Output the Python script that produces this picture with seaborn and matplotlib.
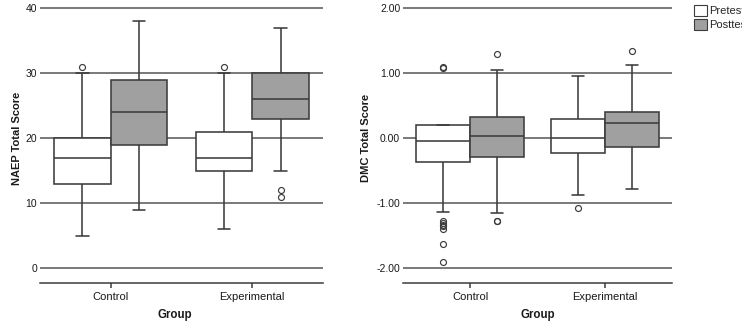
import numpy as np
import pandas as pd
import matplotlib
matplotlib.use("Agg")
import matplotlib.pyplot as plt
import seaborn as sns
from matplotlib.patches import Patch

# ---- data ----
groups = ["Control", "Control", "Experimental", "Experimental"]
times = ["Pretest", "Posttest", "Pretest", "Posttest"]

naep_low = [5, 9, 6, 15]
naep_q1 = [13, 19, 15, 23]
naep_med = [17, 24, 17, 26]
naep_q3 = [20, 29, 21, 30]
naep_high = [30, 38, 30, 37]
naep_out = [[31], [], [31], [12, 11]]

dmc_low = [-1.14, -1.15, -0.87, -0.78]
dmc_q1 = [-0.37, -0.29, -0.23, -0.14]
dmc_med = [-0.05, 0.04, 0.01, 0.23]
dmc_q3 = [0.21, 0.32, 0.29, 0.41]
dmc_high = [1.08, 1.05, 0.96, 1.13]
dmc_out = [[1.10, -1.27, -1.30, -1.33, -1.36, -1.40, -1.63, -1.90],
           [1.30, -1.27, -1.28], [-1.07], [1.34]]

time_order = ["Pretest", "Posttest"]
group_order = ["Control", "Experimental"]


def expand(low, q1, med, q3, high, out):
    """Tidy rows whose box statistics equal the read summary values."""
    rows = []
    for g, t, lo, a, m, b, hi, o in zip(groups, times, low, q1, med, q3, high, out):
        vals = list(o) + [lo] + [a] * 30 + [m] * 30 + [b] * 30 + [hi]
        rows += [(g, t, v) for v in vals]
    return pd.DataFrame(rows, columns=["Group", "Time", "Score"])


naep_df = expand(naep_low, naep_q1, naep_med, naep_q3, naep_high, naep_out)
dmc_df = expand(dmc_low, dmc_q1, dmc_med, dmc_q3, dmc_high, dmc_out)

sns.set_theme(style="white")
plt.rcParams["font.family"] = ["Liberation Sans", "DejaVu Sans"]

W, H = 742, 329
fig = plt.figure(figsize=(W / 100, H / 100), dpi=100)

LINE = "#3c3c3c"
GRID = "#555555"
TEXT = "#1a1a1a"
palette = {"Pretest": "#ffffff", "Posttest": "#a0a0a0"}


def px_axes(x0, x1, y0, y1):
    return fig.add_axes([x0 / W, 1 - y1 / H, (x1 - x0) / W, (y1 - y0) / H])


def draw(ax, df, ylim, ticks, labels, ylabel, ylab_x, xlab_x):
    sns.boxplot(data=df, x="Group", y="Score", hue="Time", order=group_order,
                hue_order=time_order, palette=palette, linecolor=LINE,
                linewidth=1.15, width=0.8, gap=0, whis=1.5, legend=False,
                capwidths=0.09,
                flierprops=dict(marker="o", markerfacecolor="none",
                                markeredgecolor=LINE, markersize=4.3,
                                markeredgewidth=0.85),
                ax=ax)
    ax.set_xlim(-0.5, 1.5)
    ax.set_ylim(*ylim)
    ax.set_yticks(ticks)
    ax.set_yticklabels(labels, fontsize=7.5, color=TEXT)
    ax.set_axisbelow(True)
    ax.yaxis.grid(True, color=GRID, linewidth=1.1)
    ax.xaxis.grid(False)
    for s in ["left", "top", "right"]:
        ax.spines[s].set_visible(False)
    ax.spines["bottom"].set_color(LINE)
    ax.spines["bottom"].set_linewidth(1.1)
    ax.tick_params(axis="y", length=0, pad=2)
    ax.tick_params(axis="x", length=3.6, width=1.1, color=LINE, direction="out",
                   pad=3, labelsize=8, labelcolor=TEXT, bottom=True)
    ax.set_xlabel("Group", fontsize=8.3, fontweight="bold", color=TEXT)
    ax.set_ylabel(ylabel, fontsize=8, fontweight="bold", color=TEXT)
    ax.xaxis.set_label_coords(xlab_x, -0.094)
    ax.yaxis.set_label_coords(ylab_x, 0.525)
    ax.set_facecolor("white")


ax1 = px_axes(40, 323, 7, 283)
draw(ax1, naep_df, (-2.31, 40.2), [0, 10, 20, 30, 40],
     ["0", "10", "20", "30", "40"], "NAEP Total Score", -0.064, 0.477)

ax2 = px_axes(403, 672, 7, 283)
draw(ax2, dmc_df, (-2.231, 2.02), [-2, -1, 0, 1, 2],
     ["-2.00", "-1.00", "0.00", "1.00", "2.00"], "DMC Total Score", -0.119, 0.5)

handles = [Patch(facecolor=palette[t], edgecolor=LINE, linewidth=0.8) for t in time_order]
fig.legend(handles, time_order, loc="upper left",
           bbox_to_anchor=(694 / W, 1 - 5 / H), frameon=False, fontsize=8,
           handlelength=1.15, handleheight=1.15, handletextpad=0.25,
           labelspacing=0.25, borderpad=0, borderaxespad=0)

fig.savefig("out.png", dpi=100)
